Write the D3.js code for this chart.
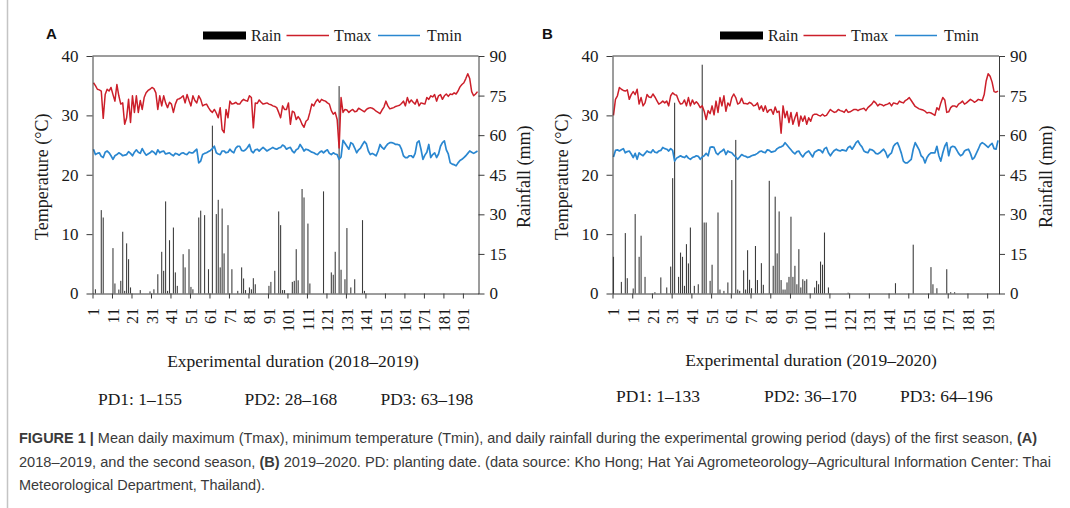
<!DOCTYPE html>
<html>
<head>
<meta charset="utf-8">
<script src="https://cdn.jsdelivr.net/npm/d3@7"></script>
<style>
  body { margin: 0; background: #fff; }
  svg { display: block; }
</style>
</head>
<body>
<div id="chart"></div>
<script>
// ---- data ----
const tempTicks = [0, 10, 20, 30, 40];
const rainTicks = [0, 15, 30, 45, 60, 75, 90];
const dayTickLabels = ["1","11","21","31","41","51","61","71","81","91","101","111","121","131","141","151","161","171","181","191"];
const legendNames = ["Rain", "Tmax", "Tmin"];

// season A, 2018-2019 (198 days)
const tmaxA = [
  35.5,35.0,34.4,34.3,34.1,29.5,33.5,34.4,34.1,34.7,
  33.5,32.4,35.2,33.3,31.9,32.1,28.5,29.6,32.7,28.8,
  33.3,30.5,33.3,30.5,32.5,31.0,33.0,33.8,34.2,34.4,
  34.7,34.5,33.8,31.0,33.3,31.6,33.3,32.1,31.3,32.2,
  31.9,30.5,31.9,32.7,32.8,33.0,33.3,32.1,33.5,32.5,
  31.6,33.3,32.5,32.1,33.3,32.7,31.6,31.8,31.9,31.3,
  30.8,30.5,31.0,30.4,29.6,31.3,27.6,27.1,31.0,29.6,
  32.4,31.9,32.0,32.2,31.9,31.9,32.4,32.7,32.5,32.4,
  33.3,33.0,27.9,32.1,32.0,32.6,32.2,31.9,32.0,32.1,
  31.9,31.8,31.6,31.5,31.3,30.5,29.6,31.6,31.0,31.0,
  32.1,28.5,30.7,30.5,29.3,29.8,29.3,28.5,28.0,29.0,
  29.3,30.5,31.9,31.6,32.3,32.7,32.2,32.7,32.5,32.4,
  32.1,31.9,30.8,30.2,30.5,29.3,24.5,33.0,30.5,31.0,
  30.9,30.5,30.8,31.0,30.6,30.7,31.2,31.0,30.8,30.6,
  31.0,31.2,31.3,31.2,31.0,30.7,30.5,30.3,30.9,31.4,
  32.4,31.6,31.1,31.2,31.3,31.5,31.6,31.7,32.0,32.4,
  31.6,33.0,32.1,32.6,32.2,31.9,32.7,31.6,32.1,32.0,
  31.9,33.0,32.7,33.3,33.1,33.5,32.4,33.3,33.5,32.7,
  33.3,33.6,33.2,33.6,33.5,33.8,33.6,34.1,34.8,35.2,
  35.5,36.2,37.0,36.2,34.0,33.3,33.6,34.0
];
const tminA = [
  24.3,23.4,23.6,23.7,23.1,22.9,23.8,24.0,23.7,23.2,
  22.6,23.2,23.4,23.7,23.5,23.2,23.3,23.4,23.9,23.6,
  23.2,23.8,24.2,23.8,23.6,24.4,23.8,23.3,23.5,23.7,
  24.0,23.8,23.4,24.2,23.7,23.9,24.0,23.5,23.6,23.7,
  23.4,23.2,23.6,23.5,23.3,23.6,23.7,23.5,23.4,23.8,
  23.7,23.7,24.0,24.3,22.0,22.3,23.4,23.6,23.7,23.9,
  24.1,24.4,24.8,23.7,23.5,23.4,24.0,24.0,23.7,23.8,
  24.3,23.9,23.7,24.5,24.8,24.8,24.1,24.0,24.2,24.6,
  25.1,24.0,23.7,24.2,24.3,24.0,24.3,24.6,24.3,24.0,
  24.2,24.4,24.6,24.4,24.3,24.5,24.6,25.0,24.8,24.3,
  24.5,24.6,24.0,23.7,24.2,24.4,25.1,24.6,24.0,24.3,
  24.2,24.0,23.8,23.7,23.5,23.4,23.8,24.0,23.7,24.0,
  24.2,23.6,23.4,23.7,23.5,23.4,22.6,23.0,25.8,25.3,
  24.8,24.3,25.4,25.2,24.5,23.7,24.2,24.5,25.1,25.6,
  25.2,24.0,23.4,23.6,23.4,23.2,24.0,25.1,24.6,24.3,
  24.8,25.2,25.4,25.4,25.3,25.1,25.1,25.0,24.3,23.2,
  22.9,22.9,23.2,23.2,22.9,23.6,25.4,25.7,24.3,22.6,
  23.3,23.8,25.1,22.9,23.4,23.7,22.9,23.5,24.8,25.4,
  25.7,24.2,23.5,22.0,21.8,21.7,21.5,22.0,22.4,22.6,
  22.9,23.2,23.6,24.0,23.8,23.6,23.8,24.0
];
const rainA = [
  0,1.6,0,0,31.6,28.8,0,0,0,0,
  17.2,3.8,0,1.5,4.8,23.4,1.0,19.0,13.0,2.3,
  0,0,0,0,1.3,0,0,0,0,0.8,
  0,1.6,0,7.3,0,15.8,8.6,34.9,1.0,20.2,
  0,25.0,8.0,2.9,0,0,14.9,9.9,0,16.8,
  2.5,1.6,0,0,28.8,31.4,0,29.7,0,9.2,
  0,63.6,0,30.1,35.5,9.9,32.2,15.2,0,25.9,
  0,9.2,0,0,1.0,0,9.9,5.7,1.3,0,
  2.3,1.6,5.8,3.5,0,0,0,0,0,0,
  2.9,4.4,0,8.6,0,31.1,25.9,1.3,1.3,0,
  0,0,4.4,4.8,16.8,5.0,0,39.6,36.4,0,
  26.5,3.8,0,0,0,0,0,0,38.7,0,
  0,0,8.0,7.1,15.8,0,78.6,9.0,0,5.4,
  24.8,0,2.3,0,5.4,0,0,0,27.8,1.0,
  0,0,0,0,0,0,0,0,0,0,
  0,0,0,0,0,0,0,0,0,0,
  0,0,0,0,0,0,0,0,0,0,
  0,0,0,0,0,0,0,0,0,0,
  0,0,0,0,0,0,0,0,0,0,
  0,0,0,0,0,0,0,0
];

// season B, 2019-2020 (196 days)
const tmaxB = [
  30.0,32.7,33.3,34.7,34.4,34.2,34.1,34.3,32.7,33.5,
  34.0,33.5,34.4,31.9,33.0,31.6,32.1,33.5,33.1,33.0,
  33.6,33.1,32.5,31.9,32.1,32.4,32.1,32.4,31.6,33.3,
  33.8,33.5,33.4,32.5,31.9,32.0,32.6,31.6,33.0,31.6,
  32.6,31.9,32.3,31.9,31.3,31.6,30.7,29.3,30.8,30.3,
  31.6,30.1,32.4,30.5,33.0,31.6,33.3,30.7,32.1,31.6,
  33.0,33.6,33.0,31.9,32.1,32.9,32.0,32.0,31.9,32.2,
  32.0,31.6,31.7,32.1,31.0,31.6,30.7,31.6,30.5,30.9,
  31.0,30.2,31.4,30.5,30.7,27.0,31.6,29.6,30.7,28.8,
  30.5,28.5,29.6,30.5,28.2,29.9,29.0,29.9,28.5,29.6,
  29.0,30.0,30.2,30.2,30.0,29.9,30.2,29.9,30.0,30.5,
  31.0,30.7,30.5,30.6,31.0,30.8,30.7,30.5,31.0,30.5,
  30.6,30.8,31.0,31.0,30.8,31.0,31.1,31.2,30.8,31.3,
  31.6,31.9,32.4,32.1,31.6,31.9,31.8,31.6,31.8,31.9,
  32.1,31.6,32.1,32.0,31.9,32.4,32.2,32.1,32.5,32.7,
  33.0,32.5,32.0,31.5,31.3,31.1,31.0,30.9,30.7,30.4,
  30.5,30.4,30.2,30.0,31.3,30.9,32.1,33.0,32.6,30.5,
  30.6,31.3,31.6,31.6,31.4,31.9,32.1,32.4,31.9,32.1,
  32.4,32.7,32.5,32.2,32.4,32.7,32.6,32.5,33.5,35.8,
  37.0,36.6,35.6,34.0,33.9,34.1
];
const tminB = [
  23.0,24.1,24.2,24.0,24.2,24.4,23.7,23.9,24.0,23.5,
  22.9,23.6,22.6,23.7,23.4,23.2,23.6,24.0,23.8,23.7,
  24.2,23.8,23.7,24.0,24.1,24.6,24.4,24.3,24.0,24.4,
  24.1,22.3,22.8,23.0,23.2,23.0,22.9,23.2,22.8,22.6,
  22.9,23.0,23.2,23.1,22.6,23.0,23.2,23.6,23.2,24.6,
  24.7,24.6,23.7,23.4,23.8,24.0,24.3,23.4,24.0,23.8,
  23.7,23.3,23.0,22.6,23.0,23.4,23.2,23.1,22.9,23.0,
  23.2,23.3,23.4,23.6,23.9,24.0,23.8,23.7,24.2,24.1,
  23.8,23.9,24.0,24.4,24.6,24.7,24.9,25.4,25.0,24.6,
  24.2,23.8,23.5,23.9,24.0,23.4,23.0,23.5,23.8,24.0,
  23.5,23.0,23.8,24.0,24.2,24.1,23.7,24.4,24.6,23.7,
  23.2,23.7,24.1,24.3,24.1,24.0,24.2,24.1,24.0,24.6,
  24.8,24.3,24.8,25.4,25.7,25.1,24.7,24.0,23.8,23.7,
  24.3,24.2,24.0,23.6,23.5,23.7,24.0,24.3,23.8,22.9,
  23.4,23.7,24.8,25.2,25.4,24.6,23.6,22.3,22.0,22.0,
  22.3,22.6,24.3,25.4,24.8,24.2,23.2,22.9,22.0,22.9,
  23.4,23.7,23.7,23.7,24.8,23.2,22.3,23.7,24.8,25.4,
  23.2,24.6,24.8,24.7,24.2,23.6,23.2,23.4,24.0,24.2,
  24.3,23.6,22.6,22.9,23.6,24.3,25.1,25.4,25.2,24.9,
  24.6,25.0,25.3,24.4,24.3,25.8
];
const rainB = [
  13.9,0,0,0,4.4,0,22.9,5.8,0,0,
  1.9,30.1,0,13.9,21.9,0,6.3,0,0,0,
  0,0.5,0,0,6.1,0,0,2.3,0,10.2,
  43.7,72.3,0,6.3,15.5,13.9,2.9,18.7,11.4,25.0,
  0,2.9,0,3.5,0,86.7,26.9,26.9,0,4.8,
  10.9,0,0,30.7,1.5,0,1.0,0,4.2,0,
  43.0,0,58.2,1.5,1.0,0,8.8,1.5,16.4,5.2,
  2.0,0,18.0,5.1,0,11.5,3.3,0,0,42.7,
  0,10.5,36.7,15.2,31.1,5.1,1.5,1.5,4.2,6.3,
  29.1,6.3,10.5,3.5,16.8,2.3,5.4,4.8,5.4,0,
  0,0,2.3,4.8,3.5,12.1,10.9,23.1,0,2.3,
  0,0,0,0,0,0,0,0,0,0.3,
  0,0,0,0,0,0,0,0,0,0,
  0,0,0,0,0,0,0,0,0,0,
  0,0,0,3.9,0,0,0,0,0,0,
  0,0,18.5,0,0,0,0,0,0,0,
  0,10.0,3.5,0,2.0,0,0,0,0,9.2,
  0,0.5,0,0.5,0,0,0,0,0,0,
  0,0,0,0,0,0,0,0,0,0,
  0,0,0,0,0,0
];

const pdLabelsA = ["PD1: 1\u2013155", "PD2: 28\u2013168", "PD3: 63\u2013198"];
const pdLabelsB = ["PD1: 1\u2013133", "PD2: 36\u2013170", "PD3: 64\u2013196"];

const SERIF = "'Liberation Serif', 'Times New Roman', serif";
const RED = "#cc1f2a";
const BLUE = "#2a87d0";
const AXIS = "#3a3a3a";

drawFigure();

function drawFigure() {
  const svg = d3.select("#chart").append("svg")
    .attr("width", 1070).attr("height", 508);

  svg.append("rect").attr("width", 1070).attr("height", 508).attr("fill", "#fff");
  // frame edge of the screenshot
  svg.append("line")
    .attr("x1", 7.5).attr("x2", 7.5).attr("y1", 0).attr("y2", 508)
    .attr("stroke", "#c4c4c4").attr("stroke-width", 1.5);

  drawPanel(svg, {
    label: "A", labelX: 46,
    x0: 92.5, x1: 478.5,
    tmax: tmaxA, tmin: tminA, rain: rainA,
    legendX: 203,
    leftTitleX: 42, rightTitleX: 524,
    xTitle: "Experimental duration  (2018\u20132019)", xTitleX: 293, xTitleY: 367,
    pd: pdLabelsA, pdX: [98, 244.5, 380.5], pdY: 405
  });
  drawPanel(svg, {
    label: "B", labelX: 542,
    x0: 612.5, x1: 999,
    tmax: tmaxB, tmin: tminB, rain: rainB,
    legendX: 720,
    leftTitleX: 562, rightTitleX: 1046,
    xTitle: "Experimental duration (2019\u20132020)", xTitleX: 811, xTitleY: 366,
    pd: pdLabelsB, pdX: [616, 764, 900], pdY: 402
  });

  drawCaption(svg);
}

function drawPanel(svg, cfg) {
  const yTop = 56, y0 = 293.5;
  const n = cfg.tmax.length;
  const days = d3.range(1, n + 1);
  const g = svg.append("g");

  const x = d3.scaleBand().domain(days).range([cfg.x0, cfg.x1])
    .paddingInner(0.45).paddingOuter(0.225);
  const xEdge = d3.scaleLinear().domain([0, n]).range([cfg.x0, cfg.x1]);
  const yT = d3.scaleLinear().domain([0, 40]).range([y0, yTop]);
  const yR = d3.scaleLinear().domain([0, 90]).range([y0, yTop]);
  const cx = (d) => x(d) + x.bandwidth() / 2;

  // rain bars
  g.append("g").selectAll("rect")
    .data(cfg.rain.map((v, i) => [i + 1, v]).filter((d) => d[1] > 0))
    .join("rect")
    .attr("x", (d) => x(d[0]))
    .attr("width", x.bandwidth())
    .attr("y", (d) => yR(d[1]))
    .attr("height", (d) => y0 - yR(d[1]))
    .attr("fill", "#3c3c3c");

  // temperature lines
  const line = d3.line().x((d) => cx(d[0])).y((d) => yT(d[1]));
  g.append("path")
    .datum(cfg.tmax.map((v, i) => [i + 1, v]))
    .attr("d", line).attr("fill", "none")
    .attr("stroke", RED).attr("stroke-width", 1.5).attr("stroke-linejoin", "round");
  g.append("path")
    .datum(cfg.tmin.map((v, i) => [i + 1, v]))
    .attr("d", line).attr("fill", "none")
    .attr("stroke", BLUE).attr("stroke-width", 1.7).attr("stroke-linejoin", "round");

  // axes
  const left = g.append("g")
    .attr("transform", `translate(${cfg.x0},0)`)
    .call(d3.axisLeft(yT).tickValues(tempTicks).tickSize(6).tickSizeOuter(0).tickPadding(8));
  const right = g.append("g")
    .attr("transform", `translate(${cfg.x1},0)`)
    .call(d3.axisRight(yR).tickValues(rainTicks).tickSize(6).tickSizeOuter(0).tickPadding(5));
  const bottom = g.append("g")
    .attr("transform", `translate(0,${y0})`)
    .call(d3.axisBottom(xEdge).tickValues(d3.range(0, n, 10)).tickSize(5).tickSizeOuter(0).tickFormat(""));
  g.append("line")
    .attr("x1", cfg.x0).attr("x2", cfg.x1).attr("y1", yTop).attr("y2", yTop)
    .attr("stroke", AXIS);

  [left, right, bottom].forEach((a) => {
    a.selectAll("path, line").attr("stroke", AXIS);
    a.selectAll("text")
      .style("font-family", SERIF).style("font-size", "17px").attr("fill", "#1a1a1a");
  });

  // day labels, rotated
  g.append("g").selectAll("text")
    .data(dayTickLabels)
    .join("text")
    .attr("transform", (d) => `translate(${cx(+d)},308) rotate(-90)`)
    .attr("dy", "0.35em")
    .attr("text-anchor", "end")
    .style("font-family", SERIF).style("font-size", "16px").attr("fill", "#1a1a1a")
    .text((d) => d);

  // axis titles
  const midY = (yTop + y0) / 2 + 2;
  g.append("text")
    .attr("transform", `translate(${cfg.leftTitleX},${midY}) rotate(-90)`)
    .attr("dy", "0.35em").attr("text-anchor", "middle")
    .style("font-family", SERIF).style("font-size", "18px").attr("fill", "#1a1a1a")
    .text("Temperature (\u00B0C)");
  g.append("text")
    .attr("transform", `translate(${cfg.rightTitleX},${midY}) rotate(-90)`)
    .attr("dy", "0.35em").attr("text-anchor", "middle")
    .style("font-family", SERIF).style("font-size", "18px").attr("fill", "#1a1a1a")
    .text("Rainfall (mm)");
  g.append("text")
    .attr("x", cfg.xTitleX).attr("y", cfg.xTitleY)
    .attr("text-anchor", "middle")
    .style("font-family", SERIF).style("font-size", "17.5px").attr("fill", "#1a1a1a")
    .text(cfg.xTitle);

  g.append("g").selectAll("text")
    .data(cfg.pd)
    .join("text")
    .attr("x", (d, i) => cfg.pdX[i]).attr("y", cfg.pdY)
    .style("font-family", SERIF).style("font-size", "17.5px").attr("fill", "#1a1a1a")
    .text((d) => d);

  // panel letter
  g.append("text")
    .attr("x", cfg.labelX).attr("y", 39)
    .style("font-family", "'Liberation Sans', Arial, sans-serif")
    .style("font-size", "15px").style("font-weight", "bold").attr("fill", "#111")
    .text(cfg.label);

  // legend
  const lx = cfg.legendX, ly = 35.5;
  const leg = g.append("g");
  leg.append("rect").attr("x", lx).attr("y", ly - 4).attr("width", 43).attr("height", 8).attr("fill", "#000");
  leg.append("text").attr("x", lx + 48).attr("y", ly + 5.5).text(legendNames[0]);
  leg.append("line").attr("x1", lx + 83.5).attr("x2", lx + 126).attr("y1", ly).attr("y2", ly)
    .attr("stroke", RED).attr("stroke-width", 1.5);
  leg.append("text").attr("x", lx + 131).attr("y", ly + 5.5).text(legendNames[1]);
  leg.append("line").attr("x1", lx + 175).attr("x2", lx + 217).attr("y1", ly).attr("y2", ly)
    .attr("stroke", BLUE).attr("stroke-width", 1.7);
  leg.append("text").attr("x", lx + 224).attr("y", ly + 5.5).text(legendNames[2]);
  leg.selectAll("text")
    .style("font-family", SERIF).style("font-size", "16px").attr("fill", "#1a1a1a");
}

function drawCaption(svg) {
  const font = "'Liberation Sans Narrow', 'Arial Narrow', 'Liberation Sans', sans-serif";
  const cap = svg.append("g")
    .style("font-family", font).style("font-size", "14px").attr("fill", "#3a3a3a");

  const l1 = cap.append("text").attr("x", 19).attr("y", 443)
    .attr("textLength", 1018).attr("lengthAdjust", "spacingAndGlyphs");
  l1.append("tspan").style("font-weight", "bold").text("FIGURE 1 | ");
  l1.append("tspan").text("Mean daily maximum (Tmax), minimum temperature (Tmin), and daily rainfall during the experimental growing period (days) of the first season, ");
  l1.append("tspan").style("font-weight", "bold").text("(A)");

  const l2 = cap.append("text").attr("x", 19).attr("y", 467)
    .attr("textLength", 1032).attr("lengthAdjust", "spacingAndGlyphs");
  l2.append("tspan").text("2018\u20132019, and the second season, ");
  l2.append("tspan").style("font-weight", "bold").text("(B)");
  l2.append("tspan").text(" 2019\u20132020. PD: planting date. (data source: Kho Hong; Hat Yai Agrometeorology\u2013Agricultural Information Center: Thai");

  cap.append("text").attr("x", 19).attr("y", 490)
    .attr("textLength", 246).attr("lengthAdjust", "spacingAndGlyphs")
    .text("Meteorological Department, Thailand).");
}
</script>
</body>
</html>
